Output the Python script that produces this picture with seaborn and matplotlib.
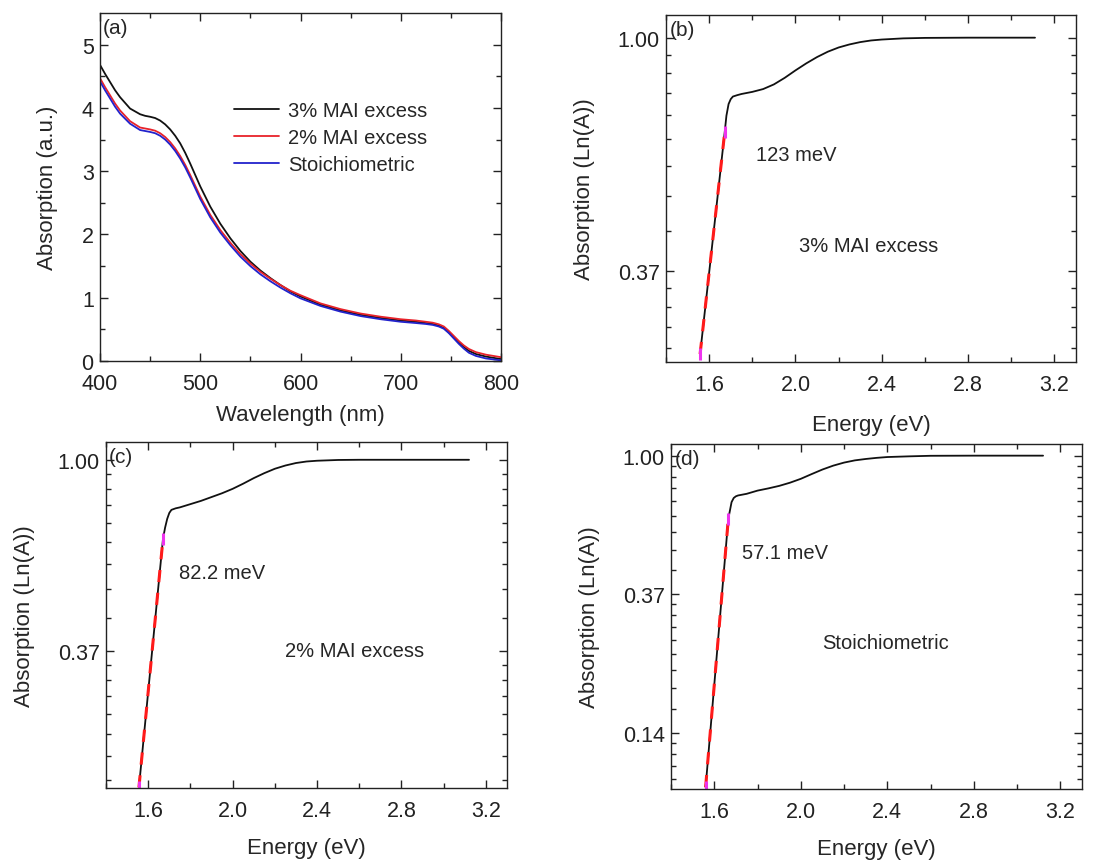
import numpy as np
import matplotlib
matplotlib.use("Agg")
import matplotlib.pyplot as plt
import seaborn as sns

# ---------------- data ----------------
wavelength = [400, 405, 410, 415, 420, 430, 440, 445, 450, 455, 460, 465, 470, 475, 480,
              485, 490, 500, 510, 520, 530, 540, 550, 560, 570, 580, 590, 600, 620, 640,
              660, 680, 700, 715, 725, 732, 738, 743, 748, 753, 758, 763, 768, 775, 785, 800]
abs_3pct = [4.68, 4.54, 4.41, 4.28, 4.17, 3.99, 3.90, 3.875, 3.86, 3.84, 3.80, 3.74, 3.66, 3.56, 3.44,
            3.29, 3.12, 2.76, 2.44, 2.17, 1.94, 1.74, 1.57, 1.43, 1.31, 1.20, 1.10, 1.02, 0.89, 0.80,
            0.73, 0.68, 0.64, 0.62, 0.60, 0.585, 0.56, 0.52, 0.45, 0.37, 0.29, 0.22, 0.16, 0.11, 0.07, 0.03]
abs_2pct = [4.47, 4.33, 4.20, 4.07, 3.96, 3.79, 3.69, 3.675, 3.66, 3.64, 3.60, 3.54, 3.46, 3.36, 3.24,
            3.10, 2.94, 2.60, 2.31, 2.07, 1.87, 1.69, 1.54, 1.41, 1.30, 1.20, 1.11, 1.04, 0.91, 0.82,
            0.75, 0.70, 0.66, 0.64, 0.62, 0.605, 0.58, 0.545, 0.475, 0.395, 0.315, 0.245, 0.19, 0.14, 0.10, 0.06]
abs_stoich = [4.42, 4.28, 4.15, 4.02, 3.91, 3.75, 3.65, 3.635, 3.62, 3.60, 3.56, 3.50, 3.42, 3.32, 3.20,
              3.06, 2.90, 2.56, 2.27, 2.03, 1.83, 1.65, 1.50, 1.37, 1.26, 1.16, 1.07, 0.99, 0.87, 0.78,
              0.71, 0.66, 0.62, 0.60, 0.585, 0.57, 0.545, 0.51, 0.44, 0.355, 0.27, 0.195, 0.13, 0.08, 0.04, 0.01]
series_labels = ["3% MAI excess", "2% MAI excess", "Stoichiometric"]

energy_b = [1.558, 1.58, 1.60, 1.62, 1.64, 1.66, 1.672, 1.68, 1.69, 1.70, 1.71, 1.73, 1.75, 1.80,
            1.85, 1.90, 1.95, 2.00, 2.05, 2.10, 2.15, 2.20, 2.25, 2.30, 2.35, 2.40, 2.50, 2.60,
            2.80, 3.00, 3.11]
lnA_b = [-1.354, -1.171, -1.005, -0.838, -0.672, -0.505, -0.405, -0.334, -0.284, -0.263, -0.252,
         -0.246, -0.241, -0.232, -0.220, -0.200, -0.172, -0.140, -0.110, -0.083, -0.060, -0.042,
         -0.029, -0.019, -0.012, -0.008, -0.003, -0.001, 0.0, 0.0, 0.0]

energy_c = [1.556, 1.58, 1.60, 1.62, 1.64, 1.66, 1.670, 1.68, 1.69, 1.70, 1.71, 1.73, 1.75, 1.80,
            1.85, 1.90, 1.95, 2.00, 2.05, 2.10, 2.15, 2.20, 2.25, 2.30, 2.35, 2.40, 2.50, 2.60,
            2.80, 3.00, 3.12]
lnA_c = [-1.714, -1.440, -1.212, -0.984, -0.756, -0.528, -0.414, -0.355, -0.309, -0.278, -0.262,
         -0.254, -0.249, -0.232, -0.215, -0.195, -0.175, -0.152, -0.125, -0.096, -0.070, -0.047,
         -0.030, -0.017, -0.009, -0.005, -0.001, 0.0, 0.0, 0.0, 0.0]

energy_d = [1.560, 1.58, 1.60, 1.62, 1.64, 1.66, 1.665, 1.68, 1.69, 1.70, 1.71, 1.73, 1.75, 1.80,
            1.85, 1.90, 1.95, 2.00, 2.05, 2.10, 2.15, 2.20, 2.25, 2.30, 2.35, 2.40, 2.50, 2.60,
            2.80, 3.00, 3.12]
lnA_d = [-2.390, -2.021, -1.653, -1.284, -0.916, -0.547, -0.455, -0.335, -0.305, -0.293, -0.287,
         -0.281, -0.275, -0.252, -0.236, -0.218, -0.195, -0.167, -0.133, -0.100, -0.072, -0.050,
         -0.034, -0.024, -0.016, -0.010, -0.005, -0.001, 0.0, 0.0, 0.0]

fit_b_x, fit_b_y = [1.558, 1.672], [-1.354, -0.405]
fit_c_x, fit_c_y = [1.556, 1.670], [-1.714, -0.414]
fit_d_x, fit_d_y = [1.560, 1.665], [-2.390, -0.455]

urbach_labels = ["123 meV", "82.2 meV", "57.1 meV"]
sample_labels = ["3% MAI excess", "2% MAI excess", "Stoichiometric"]
panel_letters = ["(a)", "(b)", "(c)", "(d)"]

# ---------------- style ----------------
sns.set_style("ticks")
plt.rcParams["font.family"] = ["Liberation Sans", "DejaVu Sans"]
plt.rcParams["axes.linewidth"] = 1.0
plt.rcParams["axes.edgecolor"] = "#222222"

TICK_FS = 15.5
LABEL_FS = 16
TEXT_FS = 14.5

fig = plt.figure(figsize=(11.06, 8.62), dpi=100)
W, H = 1106, 862


def add_axes(l, r, t, b):
    return fig.add_axes([l / W, 1 - b / H, (r - l) / W, (b - t) / H])


def style_ax(ax):
    ax.tick_params(which="both", direction="in", top=True, right=True,
                   labelsize=TICK_FS, colors="#222222")
    ax.tick_params(axis="x", which="both", pad=9)
    ax.tick_params(axis="y", which="both", pad=4.5)
    ax.tick_params(which="major", length=6, width=1.0)
    ax.tick_params(which="minor", length=3.5, width=1.0)
    for s in ax.spines.values():
        s.set_visible(True)


# ---------------- panel (a) ----------------
ax_a = add_axes(100, 501, 14, 362)
colors_a = ["#111111", "#e8222a", "#2222cc"]
for vals, lab, col in zip([abs_3pct, abs_2pct, abs_stoich], series_labels, colors_a):
    sns.lineplot(x=wavelength, y=vals, ax=ax_a, color=col, lw=1.3, label=lab,
                 estimator=None, sort=False)
ax_a.set_xlim(400, 800)
ax_a.set_ylim(0, 5.5)
ax_a.set_xticks([400, 500, 600, 700, 800])
ax_a.set_xticks([450, 550, 650, 750], minor=True)
ax_a.set_yticks([0, 1, 2, 3, 4, 5])
ax_a.set_yticks([0.5, 1.5, 2.5, 3.5, 4.5], minor=True)
ax_a.set_xlabel("Wavelength (nm)", fontsize=LABEL_FS, labelpad=7)
ax_a.set_ylabel("Absorption (a.u.)", fontsize=LABEL_FS, labelpad=17)
style_ax(ax_a)
ax_a.legend(loc="upper left", bbox_to_anchor=(0.335, 0.748), frameon=False,
            fontsize=TEXT_FS, handlelength=2.2, handletextpad=0.45, labelspacing=0.4,
            borderaxespad=0, borderpad=0)
ax_a.text(0.008, 0.985, panel_letters[0], transform=ax_a.transAxes, ha="left", va="top",
          fontsize=15)

# ---------------- panels (b), (c), (d) ----------------
boxes = [(666, 1076, 16, 363), (106, 507, 443, 789), (671, 1082, 445, 790)]
ylims = [(-1.388, 0.097), (-1.717, 0.093), (-2.403, 0.084)]
majors = [[0, -1], [0, -1], [0, -1, -2]]
energies = [energy_b, energy_c, energy_d]
lnAs = [lnA_b, lnA_c, lnA_d]
fits = [(fit_b_x, fit_b_y), (fit_c_x, fit_c_y), (fit_d_x, fit_d_y)]
urbach_pos = [(1.818, -0.502), (1.748, -0.592), (1.73, -0.70)]
sample_pos = [(2.015, -0.89), (2.247, -0.998), (2.10, -1.345)]
xlabel_pads = [13, 11, 11]

minor_vals = []
for k in (-3, -2, -1):
    lo, hi = np.exp(k), np.exp(k + 1)
    for i in range(1, 9):
        minor_vals.append(np.log(lo + i * (hi - lo) / 9))

for idx in range(3):
    ax = add_axes(*boxes[idx])
    sns.lineplot(x=energies[idx], y=lnAs[idx], ax=ax, color="#111111", lw=1.3,
                 estimator=None, sort=False)
    fx, fy = fits[idx]
    sns.lineplot(x=fx, y=fy, ax=ax, color="#ff1a1a", lw=2.2, linestyle=(0, (4, 3.5)),
                 estimator=None, sort=False)
    ax.plot(fx, fy, linestyle="none", marker="|", markersize=8, mew=2.2, color="#ee33ee")
    ax.set_xlim(1.40, 3.30)
    ax.set_ylim(*ylims[idx])
    ax.set_xticks([1.6, 2.0, 2.4, 2.8, 3.2])
    ax.set_xticks([1.4, 1.8, 2.2, 2.6, 3.0], minor=True)
    ax.set_xticklabels(["1.6", "2.0", "2.4", "2.8", "3.2"])
    ax.set_yticks(majors[idx])
    ax.set_yticklabels([f"{np.exp(v):.2f}" for v in majors[idx]])
    lo_y, hi_y = ylims[idx]
    ax.set_yticks([v for v in minor_vals if lo_y < v < hi_y], minor=True)
    ax.set_xlabel("Energy (eV)", fontsize=LABEL_FS, labelpad=xlabel_pads[idx])
    ax.set_ylabel("Absorption (Ln(A))", fontsize=LABEL_FS, labelpad=16)
    style_ax(ax)
    ax.text(*urbach_pos[idx], urbach_labels[idx], fontsize=TEXT_FS, ha="left", va="center")
    ax.text(*sample_pos[idx], sample_labels[idx], fontsize=TEXT_FS, ha="left", va="center")
    ax.text(0.008, 0.985, panel_letters[idx + 1], transform=ax.transAxes, ha="left",
            va="top", fontsize=15)

fig.savefig("out.png", dpi=100)
